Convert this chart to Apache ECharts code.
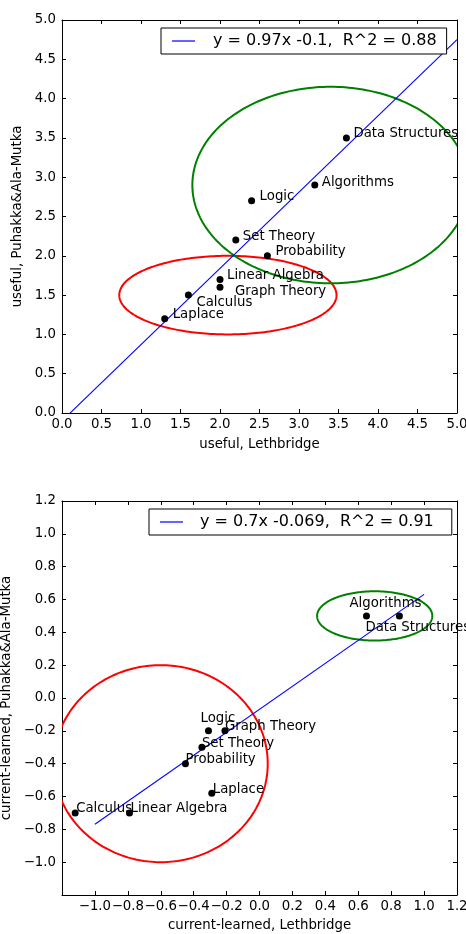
<!DOCTYPE html>
<html>
<head>
<meta charset="utf-8">
<script src="https://cdn.jsdelivr.net/npm/echarts@6/dist/echarts.min.js"></script>
<style>
html, body { margin: 0; padding: 0; background: #fff; }
#chart { width: 466px; height: 934px; }
</style>
</head>
<body>
<div id="chart"></div>
<script>
// top panel: useful, Lethbridge vs useful, Puhakka&Ala-Mutka
const topNames = ['Data Structures', 'Algorithms', 'Logic', 'Set Theory', 'Probability', 'Linear Algebra', 'Graph Theory', 'Calculus', 'Laplace'];
const topX = [3.6, 3.2, 2.4, 2.2, 2.6, 2.0, 2.0, 1.6, 1.3];
const topY = [3.5, 2.9, 2.7, 2.2, 2.0, 1.7, 1.6, 1.5, 1.2];
const topSlope = 0.97;
const topIntercept = -0.1;
const topR2 = 0.88;
const topFitRange = [0, 5];
// ellipses as [cx, cy, rx, ry]
const topRedEllipse = [2.1, 1.5, 1.375, 0.5];
const topGreenEllipse = [3.4, 2.9, 1.75, 1.25];

// bottom panel: current-learned
const botNames = ['Algorithms', 'Data Structures', 'Logic', 'Graph Theory', 'Set Theory', 'Probability', 'Laplace', 'Calculus', 'Linear Algebra'];
const botX = [0.65, 0.85, -0.31, -0.21, -0.35, -0.45, -0.29, -1.12, -0.79];
const botY = [0.5, 0.5, -0.2, -0.2, -0.3, -0.4, -0.58, -0.7, -0.7];
const botSlope = 0.7;
const botIntercept = -0.069;
const botR2 = 0.91;
const botFitRange = [-1, 1];
const botRedEllipse = [-0.6, -0.4, 0.65, 0.6];
const botGreenEllipse = [0.7, 0.5, 0.35, 0.15];

// label offsets in px: text left edge / text middle relative to the dot
const topLabelOffset = {
  'Data Structures': [7, -4], 'Algorithms': [7, -3], 'Logic': [8, -4], 'Set Theory': [7, -4],
  'Probability': [8, -4], 'Linear Algebra': [7, -4], 'Graph Theory': [15, 4], 'Calculus': [8, 7], 'Laplace': [8, -4]
};
const botLabelOffset = {
  'Algorithms': [-17, -12], 'Data Structures': [-34, 12], 'Logic': [-8, -12], 'Graph Theory': [0, -4],
  'Set Theory': [0, -4], 'Probability': [0, -4], 'Laplace': [1, -4], 'Calculus': [1, -4], 'Linear Algebra': [1, -4]
};

const FONT = 'DejaVu Sans';
const topLegendName = 'y = ' + topSlope + 'x ' + topIntercept + ',  R^2 = ' + topR2;
const botLegendName = 'y = ' + botSlope + 'x ' + botIntercept + ',  R^2 = ' + botR2;

function fmt(v, hideMin) {
  if (hideMin !== undefined && Math.abs(v - hideMin) < 1e-9) return '';
  return v.toFixed(1).replace('-', '\u2212');
}

function axis(kind, grid, min, max, interval, position, name, nameGap, hideMin) {
  const showLabel = position === 'bottom' || position === 'left';
  return {
    type: 'value', gridIndex: grid, min: min, max: max, interval: interval, position: position,
    name: showLabel ? name : '', nameLocation: 'middle', nameGap: nameGap,
    nameTextStyle: { fontFamily: FONT, fontSize: 13.3, color: '#000' },
    axisLine: { show: true, onZero: false, lineStyle: { color: '#000', width: 1 } },
    axisTick: { show: true, inside: true, length: 4, lineStyle: { color: '#000' } },
    axisLabel: {
      show: showLabel, fontFamily: FONT, fontSize: 13.3, color: '#000',
      margin: kind === 'x' ? 5 : 6,
      formatter: function (v) { return fmt(v, hideMin); }
    },
    splitLine: { show: false }
  };
}

function ellipseSeries(e, color, xi, yi) {
  return {
    type: 'custom', xAxisIndex: xi, yAxisIndex: yi, silent: true, z: 1,
    data: [e],
    encode: { x: 0, y: 1 },
    renderItem: function (params, api) {
      const cs = params.coordSys;
      const cx = api.value(0), cy = api.value(1), rx = api.value(2), ry = api.value(3);
      const pts = [];
      for (let i = 0; i <= 240; i++) {
        const t = i / 240 * Math.PI * 2;
        pts.push(api.coord([cx + rx * Math.cos(t), cy + ry * Math.sin(t)]));
      }
      return {
        type: 'polygon',
        shape: { points: pts },
        style: { fill: 'none', stroke: color, lineWidth: 2 },
        clipPath: { type: 'rect', shape: { x: cs.x, y: cs.y, width: cs.width, height: cs.height } }
      };
    }
  };
}

function fitSeries(name, slope, intercept, range, xi, yi) {
  return {
    type: 'line', name: name, xAxisIndex: xi, yAxisIndex: yi, z: 2,
    symbol: 'none', color: '#0000ff', clip: true,
    lineStyle: { color: '#0000ff', width: 1.1 },
    data: range.map(function (x) { return [x, slope * x + intercept]; })
  };
}

function pointSeries(names, xs, ys, offsets, xi, yi) {
  return {
    type: 'scatter', xAxisIndex: xi, yAxisIndex: yi, z: 3,
    symbol: 'circle', symbolSize: 7, itemStyle: { color: '#000', opacity: 1 },
    data: names.map(function (n, i) {
      const o = offsets[n];
      return {
        name: n, value: [xs[i], ys[i]],
        label: { position: [3.5 + o[0], 3.5 + o[1]] }
      };
    }),
    label: {
      show: true, formatter: '{b}', align: 'left', verticalAlign: 'middle',
      fontFamily: FONT, fontSize: 13.3, color: '#000'
    }
  };
}

function legend(name, left, top, padding, gap) {
  return {
    data: [name], left: left, top: top, selectedMode: false, orient: 'horizontal',
    backgroundColor: '#fff', borderColor: '#000', borderWidth: 1, borderRadius: 0,
    padding: padding, itemWidth: 23, itemHeight: 1.2, icon: 'rect',
    itemStyle: { color: '#0000ff' },
    formatter: function (n) { return '{t|' + n + '}'; },
    textStyle: {
      rich: { t: { fontFamily: FONT, fontSize: 16, color: '#000', lineHeight: 18, padding: [0, 0, 0, gap] } }
    }
  };
}

const chart = echarts.init(document.getElementById('chart'), null, { renderer: 'canvas' });
chart.setOption({
  animation: false,
  backgroundColor: '#fff',
  grid: [
    { left: 62, top: 20, width: 395, height: 393, outerBoundsMode: 'none', containLabel: false },
    { left: 62, top: 501, width: 395, height: 394, outerBoundsMode: 'none', containLabel: false }
  ],
  legend: [
    legend(topLegendName, 161, 28, [5, 10, 5, 11], 13),
    legend(botLegendName, 149, 509, [5, 18, 5, 11], 12)
  ],
  xAxis: [
    axis('x', 0, 0, 5, 0.5, 'bottom', 'useful, Lethbridge', 25),
    axis('x', 0, 0, 5, 0.5, 'top', '', 0),
    axis('x', 1, -1.2, 1.2, 0.2, 'bottom', 'current-learned, Lethbridge', 24, -1.2),
    axis('x', 1, -1.2, 1.2, 0.2, 'top', '', 0)
  ],
  yAxis: [
    axis('y', 0, 0, 5, 0.5, 'left', 'useful, Puhakka&Ala-Mutka', 32),
    axis('y', 0, 0, 5, 0.5, 'right', '', 0),
    axis('y', 1, -1.2, 1.2, 0.2, 'left', 'current-learned, Puhakka&Ala-Mutka', 44, -1.2),
    axis('y', 1, -1.2, 1.2, 0.2, 'right', '', 0)
  ],
  series: [
    ellipseSeries(topRedEllipse, '#ff0000', 0, 0),
    ellipseSeries(topGreenEllipse, '#008000', 0, 0),
    fitSeries(topLegendName, topSlope, topIntercept, topFitRange, 0, 0),
    pointSeries(topNames, topX, topY, topLabelOffset, 0, 0),
    ellipseSeries(botRedEllipse, '#ff0000', 2, 2),
    ellipseSeries(botGreenEllipse, '#008000', 2, 2),
    fitSeries(botLegendName, botSlope, botIntercept, botFitRange, 2, 2),
    pointSeries(botNames, botX, botY, botLabelOffset, 2, 2)
  ]
});
</script>
</body>
</html>
